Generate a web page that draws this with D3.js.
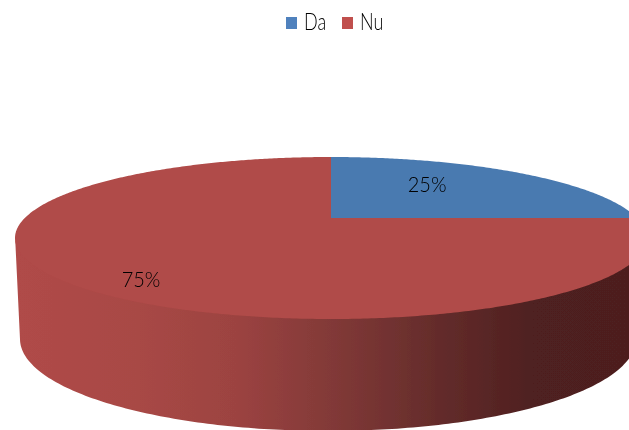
<!DOCTYPE html>
<html><head><meta charset="utf-8">
<script src="https://cdn.jsdelivr.net/npm/d3@7"></script>
<style>html,body{margin:0;padding:0;background:#fff;overflow:hidden}svg{display:block}</style>
</head><body><svg id="c" width="629" height="430"></svg>
<script>
const categories = ["Da", "Nu"];
const values = [25, 75];
const labels = ["25%", "75%"];
const colors = ["#4a7ab0", "#b04b48"];
const legendColors = ["#4f81bd", "#c0504d"];

const W = 629, H = 430;
const top3d = {cx: 331, cy: 238, rx: 316, ry: 81};
const bot3d = {cx: 328, cy: 339, rx: 308, ry: 92};
const apex = {x: 331, y: 218};
const svg = d3.select("#c").attr("viewBox", [0, 0, W, H]);
const defs = svg.append("defs");
defs.append("filter").attr("id", "soft").append("feGaussianBlur").attr("stdDeviation", 0.45);
const grad = defs.append("linearGradient").attr("id", "side")
  .attr("gradientUnits", "userSpaceOnUse").attr("x1", 15).attr("x2", 629).attr("y1", 0).attr("y2", 0);
[[0, "#b04b48"], [0.2, "#a84845"], [0.36, "#9c4341"], [0.52, "#813937"], [0.7, "#622b2a"], [0.84, "#4f2020"], [1, "#4d1f1f"]]
  .forEach(([o, c]) => grad.append("stop").attr("offset", o).attr("stop-color", c));

// ray from the off-centre pie apex to the perspective ellipse
function rim(a) {
  const dx = Math.sin(a) * top3d.rx, dy = -Math.cos(a) * top3d.ry;
  const ox = (apex.x - top3d.cx) / top3d.rx, oy = (apex.y - top3d.cy) / top3d.ry;
  const ux = dx / top3d.rx, uy = dy / top3d.ry;
  const A = ux * ux + uy * uy, B = 2 * (ox * ux + oy * uy), C = ox * ox + oy * oy - 1;
  const t = (-B + Math.sqrt(B * B - 4 * A * C)) / (2 * A);
  return [apex.x + dx * t, apex.y + dy * t];
}
const line = d3.line();
const ell = (e, t) => [e.cx + e.rx * Math.cos(t), e.cy + e.ry * Math.sin(t)];
const arcs = d3.pie().sort(null).startAngle(0).endAngle(2 * Math.PI)(values);

const g = svg.append("g").attr("filter", "url(#soft)");
// side wall, tucked slightly beneath the top face so no seam shows
const inner = {...top3d, cy: top3d.cy - 3};
const ts = d3.range(0, Math.PI + 0.001, Math.PI / 180);
const sidePts = ts.map(t => ell(inner, t)).concat(ts.slice().reverse().map(t => ell(bot3d, t)));
g.append("path").attr("d", line(sidePts) + "Z").attr("fill", "url(#side)");
// top slices
g.selectAll("path.slice").data(arcs).join("path").attr("class", "slice")
  .attr("fill", (d, i) => colors[i])
  .attr("d", d => {
    const n = Math.ceil((d.endAngle - d.startAngle) / 0.01);
    const pts = d3.range(n + 1).map(i => rim(d.startAngle + (d.endAngle - d.startAngle) * i / n));
    return line([[apex.x, apex.y], ...pts]) + "Z";
  });

// data labels
const kx = [0.43, 0.85], ky = [0.58, 1.09];
svg.selectAll("text.lab").data(arcs).join("text").attr("class", "lab")
  .attr("transform", (d, i) => {
    const m = (d.startAngle + d.endAngle) / 2;
    return `translate(${apex.x + kx[i] * top3d.rx * Math.sin(m)},${apex.y - ky[i] * top3d.ry * Math.cos(m) + 7}) scale(1,1.12)`;
  })
  .attr("text-anchor", "middle").attr("font-family", "Lato").attr("font-weight", 300).attr("font-size", 20)
  .attr("fill", "#000").attr("filter", "url(#soft)").text((d, i) => labels[i]);

// legend
const lx = d3.scalePoint().domain(categories).range([286, 342]);
const leg = svg.selectAll("g.leg").data(categories).join("g").attr("class", "leg")
  .attr("transform", d => `translate(${lx(d)},0)`).attr("filter", "url(#soft)");
leg.append("rect").attr("y", 17).attr("width", 11).attr("height", 12).attr("fill", (d, i) => legendColors[i]);
leg.append("text").attr("transform", "translate(18,30) scale(0.9,1.15)").attr("font-family", "Lato").attr("font-weight", 300)
  .attr("font-size", 20).attr("fill", "#000").text(d => d);
</script></body></html>
